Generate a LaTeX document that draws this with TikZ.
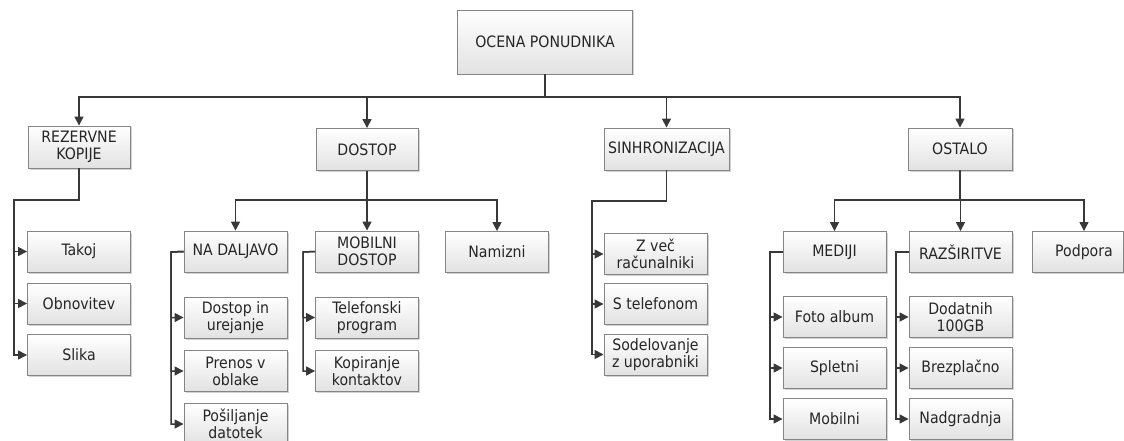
\documentclass[tikz,border=0pt]{standalone}
\usepackage{fontspec}
\setmainfont{DejaVu Sans Condensed}
\usetikzlibrary{arrows.meta,shadows}
\definecolor{linec}{HTML}{383838}
\definecolor{boxline}{HTML}{858585}
\definecolor{boxbot}{HTML}{E2E2E2}
\begin{document}
\begin{tikzpicture}[x=1pt,y=-1pt,
  box/.style={rectangle, draw=boxline, line width=0.9pt, top color=white, bottom color=boxbot,
    minimum width=103pt, minimum height=41pt, inner sep=2pt, align=center,
    font=\fontsize{15.7}{17}\selectfont, text=black!85,
    drop shadow={shadow xshift=1.5pt, shadow yshift=-1.5pt, fill=black!25, opacity=0.7}},
  conn/.style={draw=linec, line width=1.5pt},
  arr/.style={conn, -{Triangle[length=9pt,width=9pt]}},
]
\useasboundingbox (0,0) rectangle (1124,441);
% level 0
\node[box, minimum width=175pt, minimum height=64pt] (root) at (545,42) {OCENA PONUDNIKA};
% level 1
\node[box, minimum width=102pt, minimum height=42pt] (rez) at (79,147) {REZERVNE\\KOPIJE};
\node[box, minimum width=102pt, minimum height=42pt] (dostop) at (367,149.5) {DOSTOP};
\node[box, minimum width=125pt, minimum height=42pt] (sinh) at (666.5,149) {SINHRONIZACIJA};
\node[box, minimum width=104pt, minimum height=42pt] (ostalo) at (960,149) {OSTALO};
% rezervne kopije
\node[box] (takoj) at (79,251.5) {Takoj};
\node[box] (obn) at (79,303.5) {Obnovitev};
\node[box] (slika) at (79,355) {Slika};
% dostop
\node[box] (nadal) at (235.5,251.5) {NA DALJAVO};
\node[box] (mob) at (367,251.5) {MOBILNI\\DOSTOP};
\node[box] (namiz) at (497,252) {Namizni};
\node[box] (dost) at (235.5,317.5) {Dostop in\\urejanje};
\node[box] (pren) at (235.5,371) {Prenos v\\oblake};
\node[box] (posi) at (235.5,424) {Pošiljanje\\datotek};
\node[box] (tel) at (367,317.5) {Telefonski\\program};
\node[box] (kop) at (367,371) {Kopiranje\\kontaktov};
% sinhronizacija
\node[box] (zvec) at (655.5,254) {Z več\\računalniki};
\node[box] (stel) at (655.5,304) {S telefonom};
\node[box] (sod) at (655.5,354.5) {Sodelovanje\\z uporabniki};
% ostalo
\node[box] (medij) at (834.5,252) {MEDIJI};
\node[box] (raz) at (960.5,252) {RAZŠIRITVE};
\node[box, minimum width=91pt] (podp) at (1078,252) {\hspace*{12pt}Podpora};
\node[box] (foto) at (834.5,317) {Foto album};
\node[box] (splet) at (834.5,368) {Spletni};
\node[box] (mobi) at (834.5,419) {Mobilni};
\node[box] (dod) at (960.5,317) {Dodatnih\\100GB};
\node[box] (brez) at (960.5,368) {Brezplačno};
\node[box] (nadg) at (960.5,419) {Nadgradnja};
% bus coordinates
\coordinate (bus0) at (545,97);
\coordinate (bus1) at (367,200);
\coordinate (bus2) at (960,200);
\coordinate (pc) at (1084,252);
\coordinate (rezc) at (14,200);
\coordinate (sinc) at (592,201);
\coordinate (ndc) at (171,252);
\coordinate (mobc) at (303,252);
\coordinate (medc) at (770,252);
\coordinate (razc) at (896,252);
% connectors
\foreach \n in {rez,dostop,sinh,ostalo} \draw[arr] (root.south) |- (bus0) -| (\n.north);
\foreach \n in {nadal,mob,namiz} \draw[arr] (dostop.south) -- (bus1) -| (\n.north);
\foreach \n in {medij,raz} \draw[arr] (ostalo.south) -- (bus2) -| (\n.north);
\draw[arr] (ostalo.south) -- (bus2) -| (pc |- podp.north);
\foreach \n in {takoj,obn,slika} \draw[arr] (rez.south) |- (rezc) |- (\n.west);
\foreach \n in {zvec,stel,sod} \draw[arr] (sinh.south) |- (sinc) |- (\n.west);
\foreach \n in {dost,pren,posi} \draw[arr] (nadal.west) -- (ndc) |- (\n.west);
\foreach \n in {tel,kop} \draw[arr] (mob.west) -- (mobc) |- (\n.west);
\foreach \n in {foto,splet,mobi} \draw[arr] (medij.west) -- (medc) |- (\n.west);
\foreach \n in {dod,brez,nadg} \draw[arr] (raz.west) -- (razc) |- (\n.west);
\end{tikzpicture}
\end{document}
